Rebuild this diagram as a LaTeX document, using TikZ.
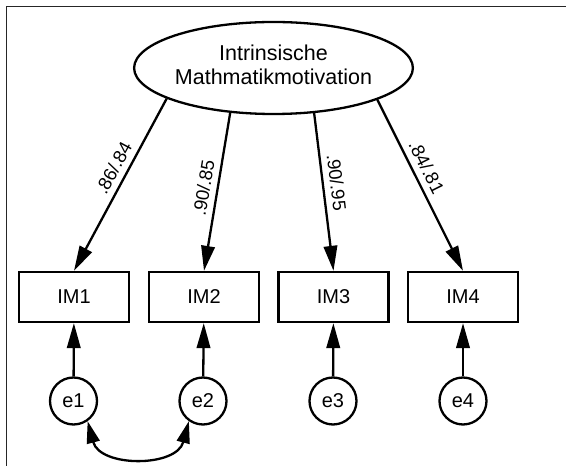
\documentclass[tikz,border=0pt]{standalone}
\usepackage{fontspec}
\setmainfont{Liberation Sans}
\usetikzlibrary{arrows.meta,shapes.geometric}
\begin{document}
\begin{tikzpicture}[x=1pt,y=1pt,
  every node/.style={line width=2.3pt},
  latent/.style={draw,ellipse,minimum width=226pt,minimum height=92pt,inner sep=0pt,
    font=\fontsize{21.5}{24}\selectfont},
  indicator/.style={draw,rectangle,minimum width=110pt,minimum height=50pt,inner sep=0pt,
    font=\fontsize{20}{24}\selectfont},
  errvar/.style={draw,circle,minimum size=47pt,inner sep=0pt,
    font=\fontsize{20}{24}\selectfont},
  path/.style={line width=2.3pt,-{Triangle[length=25pt,width=13.5pt]}},
  cov/.style={line width=2.3pt,{Triangle[length=22pt,width=13pt]}-{Triangle[length=22pt,width=13pt]}},
  loading/.style={sloped,above=5pt,inner sep=1pt,font=\fontsize{18.5}{20}\selectfont},
  frame/.style={line width=1.8pt,black!85}]
\useasboundingbox (0,0) rectangle (566,466);
% frame edges
\draw[frame] (6.5,0) -- (6.5,459.5) -- (566,459.5);

% latent factor
\node[latent] (F) at (273.5,398)
  {\raisebox{-3.5pt}{\begin{tabular}{@{}c@{}}Intrinsische\\Mathmatikmotivation\end{tabular}}};

% indicators
\node[indicator] (IM1) at (74,169) {IM1};
\node[indicator] (IM2) at (204,169) {IM2};
\node[indicator] (IM3) at (333.5,169) {IM3};
\node[indicator] (IM4) at (463,169) {IM4};

% residuals
\node[errvar] (e1) at (73.5,65) {e1};
\node[errvar] (e2) at (203,65) {e2};
\node[errvar] (e3) at (333,65) {e3};
\node[errvar] (e4) at (463,65) {e4};

% factor loadings
\draw[path] (F.196) -- node[loading,pos=0.44] {.86/.84} (IM1.north);
\draw[path] (F.226) -- node[loading,pos=0.49] {.90/.85} (IM2.north);
\draw[path] (F.-48) -- node[loading,pos=0.45] {.90/.95} (IM3.north);
\draw[path] (F.-17) -- node[loading,pos=0.43] {.84/.81} (IM4.north);

% residual paths
\draw[path] (e1) -- (IM1);
\draw[path] (e2) -- (IM2);
\draw[path] (e3) -- (IM3);
\draw[path] (e4) -- (IM4);

% residual covariance
\draw[cov] (e1.-55) .. controls +(-75:48) and +(-105:48) .. (e2.-125);
\end{tikzpicture}
\end{document}
